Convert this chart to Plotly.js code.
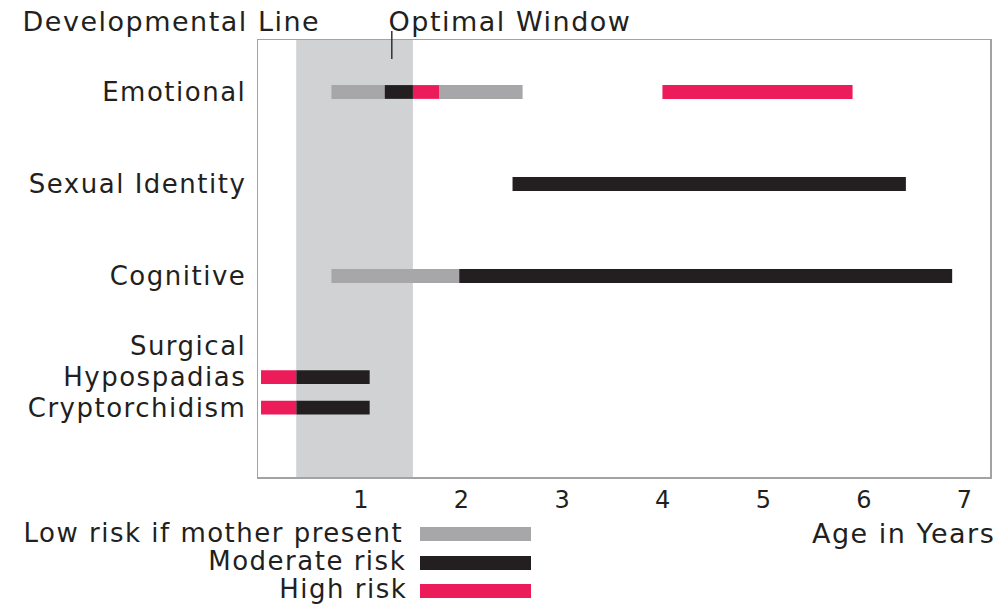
<!DOCTYPE html>
<html>
<head>
<meta charset="utf-8">
<script src="https://cdn.plot.ly/plotly-3.0.1.min.js"></script>
<style>
html,body{margin:0;padding:0;background:#fff;}
#chart{width:1000px;height:605px;}
.main-svg text{letter-spacing:1.5px;}
</style>
</head>
<body>
<div id="chart"></div>
<script>
// Rows (developmental lines) and their vertical positions
const rowNames = ["Emotional", "Sexual Identity", "Cognitive", "Surgical", "Hypospadias", "Cryptorchidism"];
const rowPos   = [1, 2, 3, 3.76, 4.1, 4.43];

// Segments: row, start age, end age (years)
const lowRows   = ["Emotional", "Emotional", "Cognitive"];
const lowStart  = [0.70, 1.77, 0.70];
const lowEnd    = [1.23, 2.60, 1.97];

const modRows   = ["Emotional", "Sexual Identity", "Cognitive", "Hypospadias", "Cryptorchidism"];
const modStart  = [1.23, 2.50, 1.97, 0.35, 0.35];
const modEnd    = [1.51, 6.41, 6.87, 1.08, 1.08];

const highRows  = ["Emotional", "Emotional", "Hypospadias", "Cryptorchidism"];
const highStart = [1.51, 3.99, 0.00, 0.00];
const highEnd   = [1.77, 5.88, 0.35, 0.35];

// Optimal window (years) and its marker
const windowStart = 0.35;
const windowEnd = 1.51;
const windowMarker = 1.30;

const xTicks = [1, 2, 3, 4, 5, 6, 7];

const legendLabels = ["Low risk if mother present", "Moderate risk", "High risk"];
const colors = {low: "#a7a7a9", mod: "#231f20", high: "#ec1c5b"};
const shade = "#d1d2d4";
const textColor = "#231f20";
const fontFam = "DejaVu Sans, Open Sans, sans-serif";

function pos(name) { return rowPos[rowNames.indexOf(name)]; }
function seg(rows, s, e, color, name) {
  return {
    type: "bar", orientation: "h",
    y: rows.map(pos),
    base: s,
    x: s.map((v, i) => e[i] - v),
    width: 0.15,
    marker: {color: color, line: {width: 0}},
    name: name, showlegend: false, hoverinfo: "skip"
  };
}

const traces = [
  seg(lowRows, lowStart, lowEnd, colors.low, legendLabels[0]),
  seg(modRows, modStart, modEnd, colors.mod, legendLabels[1]),
  seg(highRows, highStart, highEnd, colors.high, legendLabels[2])
];

// plot area geometry helpers (paper coords)
const L = 258, R = 10, T = 40, B = 128, W = 1000, H = 605;
const pw = W - L - R, ph = H - T - B;
const px = v => (v - L) / pw;
const py = v => (H - B - v) / ph;

const swatchColors = [colors.low, colors.mod, colors.high];
const legendY = [533, 561, 589];
const swatchY = [534, 563, 591];
const legendCx = [213, 307, 343];
const shapes = [
  {type: "rect", xref: "x", yref: "paper", x0: windowStart, x1: windowEnd, y0: 0, y1: 1,
   fillcolor: shade, line: {width: 0}, layer: "below"},
  {type: "line", xref: "x", yref: "paper", x0: windowMarker, x1: windowMarker, y0: py(31), y1: py(59),
   line: {color: "#333333", width: 1.5}}
];
swatchColors.forEach((c, i) => {
  shapes.push({type: "rect", xref: "paper", yref: "paper",
    x0: px(420), x1: px(531), y0: py(swatchY[i] - 7), y1: py(swatchY[i] + 7),
    fillcolor: c, line: {width: 0}});
});

const annFont = {family: fontFam, size: 27, color: textColor};
const legFont = {family: fontFam, size: 26, color: textColor};
const annotations = [
  {text: "Developmental Line", xref: "paper", yref: "paper", x: px(171), y: py(21),
   xanchor: "center", yanchor: "middle", showarrow: false, font: annFont},
  {text: "Optimal Window", xref: "paper", yref: "paper", x: px(510), y: py(21),
   xanchor: "center", yanchor: "middle", showarrow: false, font: annFont},
  {text: "Age in Years", xref: "paper", yref: "paper", x: px(903), y: py(533),
   xanchor: "center", yanchor: "middle", showarrow: false, font: annFont}
];
legendLabels.forEach((t, i) => {
  annotations.push({text: t, xref: "paper", yref: "paper", x: px(legendCx[i]), y: py(legendY[i]),
    xanchor: "center", yanchor: "middle", showarrow: false, font: legFont});
});

const layout = {
  width: W, height: H,
  margin: {l: L, r: R, t: T, b: B, pad: 0},
  paper_bgcolor: "#ffffff", plot_bgcolor: "rgba(0,0,0,0)",
  barmode: "overlay",
  showlegend: false,
  font: {family: fontFam, color: textColor},
  xaxis: {
    range: [-0.03, 7.246], tickvals: xTicks, ticktext: xTicks.map(String),
    showgrid: false, zeroline: false, ticks: "", showline: true, mirror: true,
    linecolor: "#a3a3a3", linewidth: 1.5,
    tickfont: {family: fontFam, size: 24, color: textColor},
    ticklabelstandoff: 1, fixedrange: true
  },
  yaxis: {
    range: [5.185, 0.435], tickvals: rowPos, ticktext: rowNames,
    showgrid: false, zeroline: false, ticks: "", showline: true, mirror: true,
    linecolor: "#a3a3a3", linewidth: 1.5,
    tickfont: {family: fontFam, size: 26, color: textColor},
    ticklabelstandoff: 5, fixedrange: true
  },
  shapes: shapes,
  annotations: annotations
};

Plotly.newPlot("chart", traces, layout, {displayModeBar: false, staticPlot: true});
</script>
</body>
</html>
